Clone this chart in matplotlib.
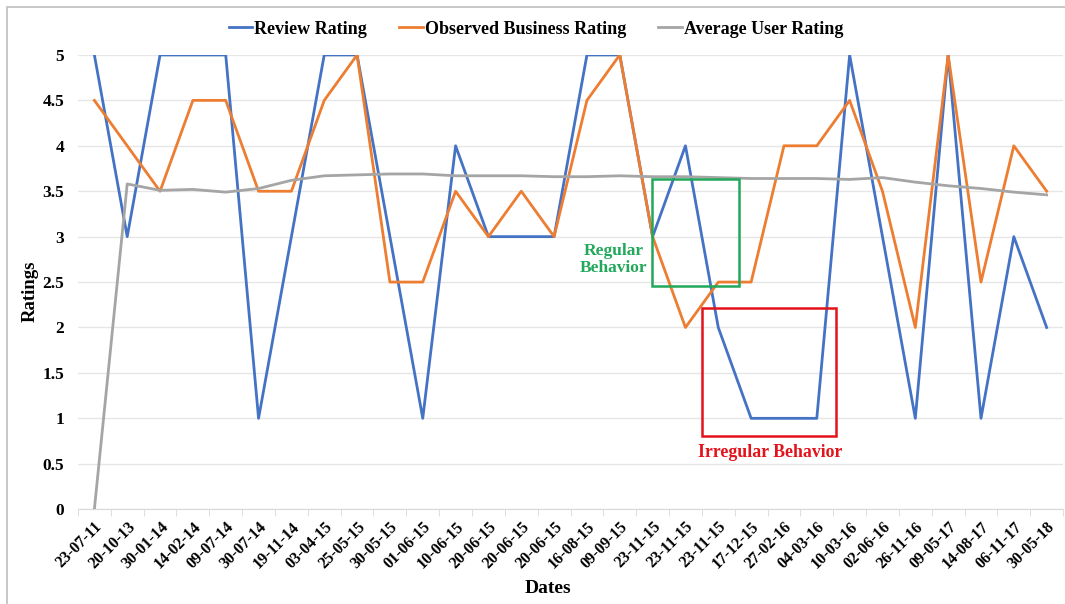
import matplotlib.pyplot as plt
from matplotlib.patches import Rectangle

plt.rcParams['font.family'] = ['Liberation Serif', 'DejaVu Serif']
plt.rcParams['font.weight'] = 'bold'

dates = ['23-07-11', '20-10-13', '30-01-14', '14-02-14', '09-07-14', '30-07-14',
         '19-11-14', '03-04-15', '25-05-15', '30-05-15', '01-06-15', '10-06-15',
         '20-06-15', '20-06-15', '20-06-15', '16-08-15', '09-09-15', '23-11-15',
         '23-11-15', '23-11-15', '17-12-15', '27-02-16', '04-03-16', '10-03-16',
         '02-06-16', '26-11-16', '09-05-17', '14-08-17', '06-11-17', '30-05-18']

review = [5, 3, 5, 5, 5, 1, 3, 5, 5, 3, 1, 4, 3, 3, 3,
          5, 5, 3, 4, 2, 1, 1, 1, 5, 3, 1, 5, 1, 3, 2]
business = [4.5, 4, 3.5, 4.5, 4.5, 3.5, 3.5, 4.5, 5, 2.5, 2.5, 3.5, 3, 3.5, 3,
            4.5, 5, 3, 2, 2.5, 2.5, 4, 4, 4.5, 3.5, 2, 5, 2.5, 4, 3.5]
avg_user = [0, 3.58, 3.51, 3.52, 3.49, 3.53, 3.62, 3.67, 3.68, 3.69, 3.69, 3.67,
            3.67, 3.67, 3.66, 3.66, 3.67, 3.66, 3.66, 3.65, 3.64, 3.64, 3.64, 3.63,
            3.65, 3.60, 3.56, 3.53, 3.49, 3.46]

BLUE = '#4472C4'
ORANGE = '#ED7D31'
GRAY = '#A5A5A5'
GREEN = '#22A85A'
RED = '#E3131B'

fig = plt.figure(figsize=(10.65, 6.04), dpi=100)
ax = fig.add_axes([0.0732, 0.157, 0.925, 0.752])

# outer frame of the original figure (only left/top visible)
fig.patches.append(Rectangle((7 / 1065, -0.1), 1.2, 1 - 7 / 604 + 0.1,
                             transform=fig.transFigure, fill=False,
                             edgecolor='#BFBFBF', lw=1.2))

x = list(range(len(dates)))
ax.plot(x, review, color=BLUE, lw=2, label='Review Rating')
ax.plot(x, business, color=ORANGE, lw=2, label='Observed Business Rating')
ax.plot(x, avg_user, color=GRAY, lw=2, label='Average User Rating')

ax.set_xlim(-0.5, len(dates) - 0.5)
ax.set_ylim(0, 5)
ax.set_yticks([0, 0.5, 1, 1.5, 2, 2.5, 3, 3.5, 4, 4.5, 5])
ax.set_yticklabels(['0', '0.5', '1', '1.5', '2', '2.5', '3', '3.5', '4', '4.5', '5'],
                   fontsize=12.5, fontweight='bold')
ax.set_xticks(x)
ax.set_xticklabels(dates, rotation=45, ha='right', rotation_mode='anchor',
                   fontsize=11.5, fontweight='bold')
ax.set_xticks([i - 0.5 for i in range(len(dates) + 1)], minor=True)
ax.tick_params(axis='x', which='major', length=0, pad=7)
ax.tick_params(axis='x', which='minor', length=5, color='#D9D9D9')
ax.tick_params(axis='y', length=0, pad=10)

ax.grid(axis='y', color='#E6E6E6', lw=1)
ax.set_axisbelow(True)
for s in ['top', 'right', 'left']:
    ax.spines[s].set_visible(False)
ax.spines['bottom'].set_color('#D9D9D9')
ax.spines['bottom'].set_zorder(0.5)

ax.set_ylabel('Ratings', fontsize=13.5, fontweight='bold')
ax.yaxis.set_label_coords(-0.040, 0.48)
ax.set_xlabel('Dates', fontsize=14, fontweight='bold')
ax.xaxis.set_label_coords(0.477, -0.155)

# annotation boxes
ax.add_patch(Rectangle((16.98, 2.456), 2.66, 1.174, fill=False,
                       edgecolor=GREEN, lw=1.8, zorder=5))
ax.add_patch(Rectangle((18.5, 0.80), 4.08, 1.42, fill=False,
                       edgecolor=RED, lw=1.8, zorder=5))
ax.text(15.8, 2.75, 'Regular\nBehavior', color=GREEN, fontsize=12.5,
        fontweight='bold', ha='center', va='center', linespacing=1.1)
ax.text(20.58, 0.62, 'Irregular Behavior', color=RED, fontsize=12.8,
        fontweight='bold', ha='center', va='center')

leg = ax.legend(loc='center', bbox_to_anchor=(0.465, 1.057), ncol=3,
                frameon=False, fontsize=13, handlelength=1.3,
                handletextpad=0.1, columnspacing=1.8, borderaxespad=0)
for t in leg.get_texts():
    t.set_fontweight('bold')

fig.savefig('out.png', dpi=100)
